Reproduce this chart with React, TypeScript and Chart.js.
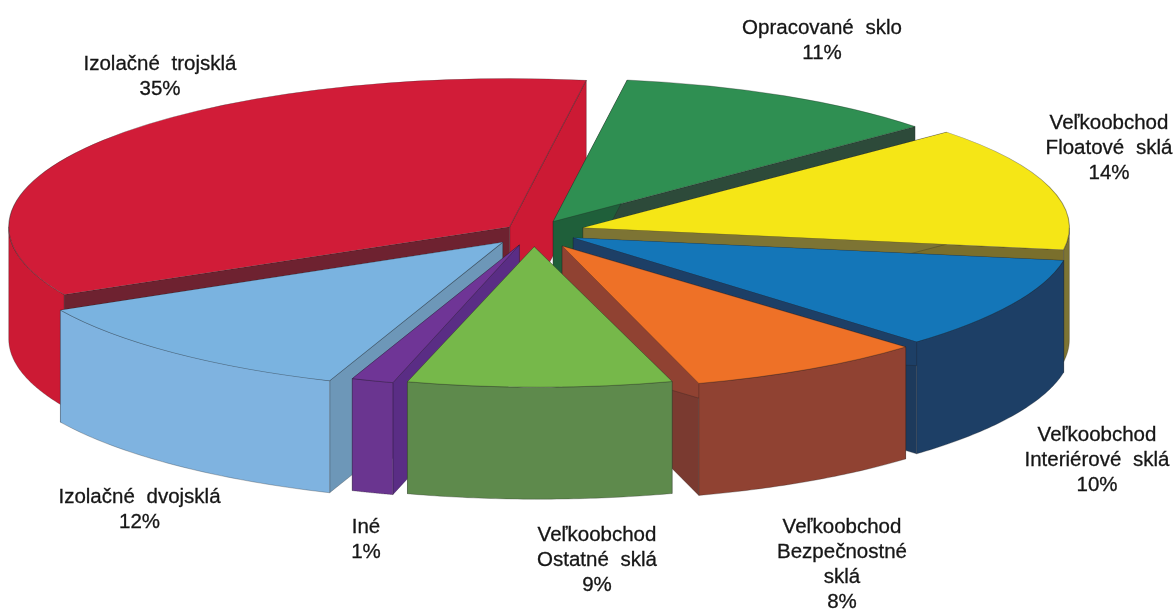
import React, { useEffect, useRef } from "react";
import { Chart, registerables } from "chart.js";

Chart.register(...registerables);

const categories: string[][] = [
  ["Opracované sklo"],
  ["Veľkoobchod", "Floatové sklá"],
  ["Veľkoobchod", "Interiérové sklá"],
  ["Veľkoobchod", "Bezpečnostné", "sklá"],
  ["Veľkoobchod", "Ostatné sklá"],
  ["Iné"],
  ["Izolačné dvojsklá"],
  ["Izolačné trojsklá"],
];
const shares = [11, 14, 10, 8, 9, 1.4, 11.6, 35];

const topColors = ["#2f8f52", "#f5e616", "#1476b8", "#ee7127", "#76b84a", "#6f3596", "#7ab3e0", "#d11c38"];
const rimColors = ["#1f5f3a", "#7d7434", "#1d3f66", "#904232", "#5e8a4c", "#6a3590", "#7fb3e0", "#cc1a34"];
const startFaceColors = ["#1f5f3a", "#7d7434", "#1d3f66", "#904232", "#5e8a4c", "#5a2d85", "#6d97b8", "#6e2230"];
const endFaceColors = ["#2d4a3a", "#7a6f2c", "#1d3a5c", "#7a3a30", "#5e8a4c", "#5a2d85", "#6d97b8", "#cc1a34"];

const explode = [40, 51, 44, 55, 50, 46, 47, 30];
const radiusScale = [1, 1.005, 1.03, 1, 0.98, 1, 1.035, 1.035];
const lean = [0, 0, -0.1, 0, 0.03, 0.05, 0.05, 0];
const paintOrder = [7, 0, 1, 2, 6, 3, 5, 4];

const labelCenters: [number, number][] = [
  [822, 28], [1109, 123], [1097, 435], [842, 527], [597, 535], [366, 527], [139.5, 497], [160, 64],
];

const TILT = 0.296;
const DEPTH = 112;
const RADIUS = 484;
const ROTATION = 8.8;
const LINE_HEIGHT = 25.2;

const pie3d = {
  id: "pie3d",
  beforeDatasetsDraw(chart: any) {
    const ctx: CanvasRenderingContext2D = chart.ctx;
    const arcs = chart.getDatasetMeta(0).data;
    for (const i of paintOrder) {
      const arc = arcs[i];
      const { x: cx, y: cy, startAngle: a0, endAngle: a1, outerRadius } = arc;
      const mid = (a0 + a1) / 2;
      const ax = cx + Math.cos(mid) * explode[i];
      const ay = cy + Math.sin(mid) * explode[i] * TILT;
      const k = radiusScale[i];
      const s = lean[i];
      const rx = outerRadius * k;
      const ry = rx * TILT;
      const rimPoint = (a: number) => [ax + Math.cos(a) * rx + s * Math.sin(a) * ry, ay + Math.sin(a) * ry];

      ctx.save();
      ctx.strokeStyle = "rgba(30,30,30,0.35)";
      ctx.lineWidth = 0.8;
      const face = (a: number, color: string) => {
        const [px, py] = rimPoint(a);
        ctx.beginPath();
        ctx.moveTo(ax, ay);
        ctx.lineTo(px, py);
        ctx.lineTo(px, py + DEPTH);
        ctx.lineTo(ax, ay + DEPTH);
        ctx.closePath();
        ctx.fillStyle = color;
        ctx.fill();
        ctx.stroke();
      };
      face(a1, endFaceColors[i]);
      face(a0, startFaceColors[i]);
      for (const base of [-2 * Math.PI, 0, 2 * Math.PI]) {
        const from = Math.max(a0, base);
        const to = Math.min(a1, base + Math.PI);
        if (to <= from) continue;
        const steps = 48;
        const pts: number[][] = [];
        for (let n = 0; n <= steps; n++) pts.push(rimPoint(from + ((to - from) * n) / steps));
        ctx.beginPath();
        pts.forEach(([x, y], n) => (n ? ctx.lineTo(x, y) : ctx.moveTo(x, y)));
        for (let n = steps; n >= 0; n--) ctx.lineTo(pts[n][0], pts[n][1] + DEPTH);
        ctx.closePath();
        ctx.fillStyle = rimColors[i];
        ctx.fill();
        ctx.stroke();
      }
      ctx.restore();

      ctx.save();
      ctx.transform(k, 0, s * k * TILT, k * TILT, ax, ay);
      ctx.translate(-cx, -cy);
      arc.draw(ctx, chart.chartArea);
      ctx.restore();
    }
    return false;
  },
  afterDraw(chart: any) {
    const ctx: CanvasRenderingContext2D = chart.ctx;
    ctx.save();
    ctx.fillStyle = "#161616";
    ctx.strokeStyle = "#161616";
    ctx.lineWidth = 0.3;
    ctx.font = "20.5px 'Liberation Sans', Arial, sans-serif";
    ctx.textAlign = "center";
    ctx.textBaseline = "middle";
    (ctx as any).wordSpacing = "6px";
    categories.forEach((lines, i) => {
      const [x, y] = labelCenters[i];
      [...lines, `${Math.round(shares[i])}%`].forEach((t, n) => {
        ctx.fillText(t, x, y + n * LINE_HEIGHT);
        ctx.strokeText(t, x, y + n * LINE_HEIGHT);
      });
    });
    ctx.restore();
  },
};

export default function App() {
  const ref = useRef<HTMLCanvasElement>(null);
  useEffect(() => {
    const chart = new Chart(ref.current!, {
      type: "pie",
      data: {
        labels: categories.map((c) => c.join(" ")),
        datasets: [
          {
            data: shares,
            backgroundColor: topColors,
            borderColor: "rgba(30,30,30,0.45)",
            borderWidth: 1,
            clip: false,
          } as any,
        ],
      },
      options: {
        animation: false,
        responsive: false,
        rotation: ROTATION,
        radius: RADIUS,
        layout: { padding: { right: 106, bottom: 148 } },
        plugins: { legend: { display: false }, tooltip: { enabled: false }, title: { display: false } },
      } as any,
      plugins: [pie3d],
    });
    return () => chart.destroy();
  }, []);
  return (
    <canvas
      ref={ref}
      width={1174}
      height={612}
      style={{ position: "absolute", left: 0, top: 0, width: 1174, height: 612, display: "block", background: "#fff" }}
    />
  );
}
